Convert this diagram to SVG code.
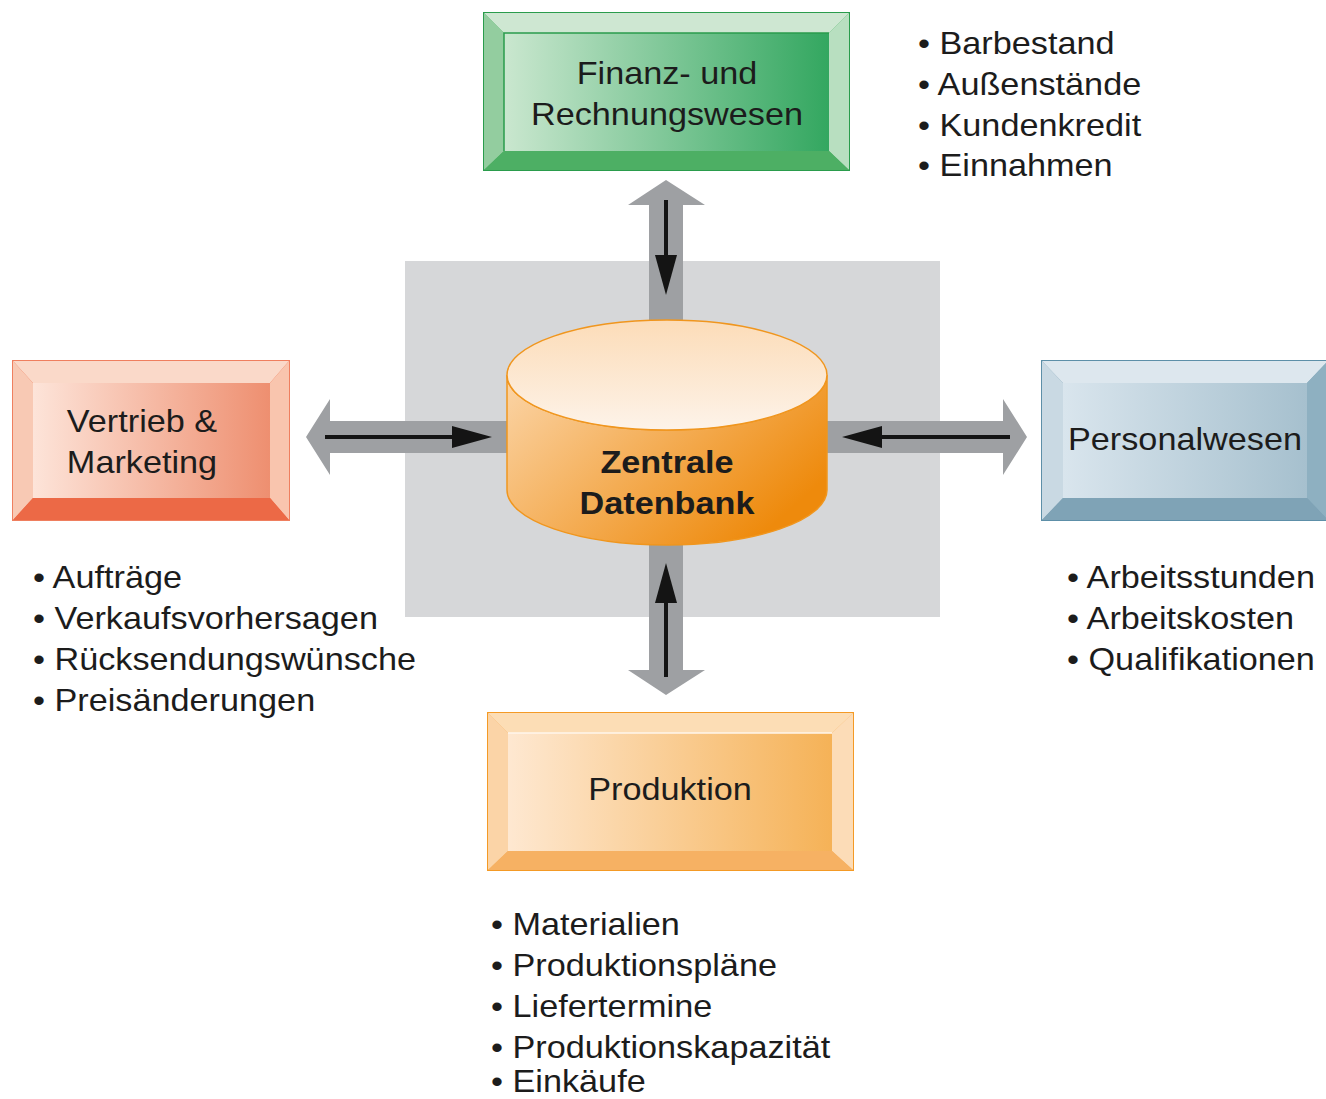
<svg xmlns="http://www.w3.org/2000/svg" width="1326" height="1099" viewBox="0 0 1326 1099">
  <style>
    .t { font-family: "Liberation Sans", Arial, Helvetica, sans-serif; font-size: 32px; fill: #1c1c1c; }
    .b { font-weight: bold; }
    .mid { text-anchor: middle; }
    .bar { fill: #9ea0a3; }
    .ptr { stroke: #141414; stroke-width: 4; fill: none; }
  </style>
  <defs>
    <marker id="head" markerUnits="userSpaceOnUse" markerWidth="40" markerHeight="22" refX="18" refY="11" orient="auto">
      <path d="M0,0 L40,11 L0,22 Z" fill="#141414"/>
    </marker>
    <linearGradient id="gGreen" x1="0" y1="0" x2="1" y2="0">
      <stop offset="0" stop-color="#cae7cf"/>
      <stop offset="1" stop-color="#33a760"/>
    </linearGradient>
    <linearGradient id="gRed" x1="0" y1="0" x2="1" y2="0">
      <stop offset="0" stop-color="#fde4d9"/>
      <stop offset="1" stop-color="#ee8f70"/>
    </linearGradient>
    <linearGradient id="gBlue" x1="0" y1="0" x2="1" y2="0">
      <stop offset="0" stop-color="#d9e5ed"/>
      <stop offset="1" stop-color="#a6c0ce"/>
    </linearGradient>
    <linearGradient id="gOrange" x1="0" y1="0" x2="1" y2="0">
      <stop offset="0" stop-color="#fee8d1"/>
      <stop offset="1" stop-color="#f5b257"/>
    </linearGradient>
    <linearGradient id="gCylSide" x1="0" y1="0" x2="1" y2="0.6">
      <stop offset="0" stop-color="#fbd5a8"/>
      <stop offset="1" stop-color="#ee8a0c"/>
    </linearGradient>
    <linearGradient id="gCylTop" x1="0" y1="0" x2="0" y2="1">
      <stop offset="0" stop-color="#fcdcb8"/>
      <stop offset="1" stop-color="#fdf3e9"/>
    </linearGradient>
  </defs>

  <!-- grey backdrop behind the database -->
  <rect x="405" y="261" width="535" height="356" fill="#d6d7d9"/>

  <!-- connectors: grey double arrows with black data-flow pointers -->
  <g id="connectors">
    <path class="bar" d="M306,437 L330,399 L330,421 L510,421 L510,453 L330,453 L330,475 Z"/>
    <line class="ptr" x1="325" y1="437" x2="470" y2="437" marker-end="url(#head)"/>

    <path class="bar" d="M1027,437 L1003,399 L1003,421 L825,421 L825,453 L1003,453 L1003,475 Z"/>
    <line class="ptr" x1="1010" y1="437" x2="864" y2="437" marker-end="url(#head)"/>

    <path class="bar" d="M666,180 L705,205 L683,205 L683,380 L649,380 L649,205 L628,205 Z"/>
    <line class="ptr" x1="666" y1="200" x2="666" y2="273" marker-end="url(#head)"/>

    <path class="bar" d="M666,695 L705,670 L683,670 L683,480 L649,480 L649,670 L628,670 Z"/>
    <line class="ptr" x1="666" y1="677" x2="666" y2="585" marker-end="url(#head)"/>
  </g>

  <!-- central database -->
  <g id="datenbank">
    <path d="M507,375 L507,490 A160,55 0 0 0 827,490 L827,375 A160,55 0 0 1 507,375 Z" fill="url(#gCylSide)" stroke="#f0961e" stroke-width="1.5"/>
    <ellipse cx="667" cy="375" rx="160" ry="55" fill="url(#gCylTop)" stroke="#f0961e" stroke-width="1.5"/>
    <text class="t b mid" transform="translate(667,473) scale(1.07,1)">Zentrale</text>
    <text class="t b mid" transform="translate(667,514) scale(1.07,1)">Datenbank</text>
  </g>

  <!-- Finanz- und Rechnungswesen -->
  <g id="finanz">
    <rect x="484" y="13" width="365" height="157" fill="#4caf63" stroke="#2a9c4c" stroke-width="2"/>
    <polygon points="484,13 849,13 829,33 504,33" fill="#cee7d2"/>
    <polygon points="484,13 504,33 504,151 484,170" fill="#93cd9f"/>
    <polygon points="849,13 829,33 829,151 849,170" fill="#b8dfc0"/>
    <polygon points="484,170 849,170 829,151 504,151" fill="#4daf64"/>
    <rect x="504" y="33" width="325" height="118" fill="url(#gGreen)"/>
    <path d="M504,151 L504,33 L829,33" fill="none" stroke="#2a9c4c" stroke-width="1.5"/>
    <text class="t mid" transform="translate(667,84) scale(1.07,1)">Finanz- und</text>
    <text class="t mid" transform="translate(667,125) scale(1.07,1)">Rechnungswesen</text>
  </g>

  <!-- Vertrieb & Marketing -->
  <g id="vertrieb">
    <rect x="13" y="361" width="276" height="159" fill="#ed6b48" stroke="#ef7f5f" stroke-width="2"/>
    <polygon points="13,361 289,361 270,383 33,383" fill="#fad9c9"/>
    <polygon points="13,361 33,383 33,498 13,520" fill="#f8c9b4"/>
    <polygon points="289,361 270,383 270,498 289,520" fill="#f9c5ae"/>
    <polygon points="13,520 289,520 270,498 33,498" fill="#ec6946"/>
    <rect x="33" y="383" width="237" height="115" fill="url(#gRed)"/>
    <text class="t mid" transform="translate(142,432) scale(1.07,1)">Vertrieb &amp;</text>
    <text class="t mid" transform="translate(142,473) scale(1.07,1)">Marketing</text>
  </g>

  <!-- Personalwesen -->
  <g id="personal">
    <rect x="1042" y="361" width="286" height="159" fill="#7fa3b6" stroke="#5d8fa8" stroke-width="2"/>
    <polygon points="1042,361 1328,361 1307,383 1063,383" fill="#dde7ee"/>
    <polygon points="1042,361 1063,383 1063,498 1042,520" fill="#c9d9e3"/>
    <polygon points="1328,361 1307,383 1307,498 1328,520" fill="#8eb0c1"/>
    <polygon points="1042,520 1328,520 1307,498 1063,498" fill="#7fa3b6"/>
    <rect x="1063" y="383" width="244" height="115" fill="url(#gBlue)"/>
    <text class="t mid" transform="translate(1185,450) scale(1.07,1)">Personalwesen</text>
  </g>

  <!-- Produktion -->
  <g id="produktion">
    <rect x="488" y="713" width="365" height="157" fill="#f6b060" stroke="#f49a25" stroke-width="2"/>
    <polygon points="488,713 853,713 832,733 508,733" fill="#fcddb5"/>
    <polygon points="488,713 508,733 508,851 488,870" fill="#fbd4a7"/>
    <polygon points="853,713 832,733 832,851 853,870" fill="#fcdcb7"/>
    <polygon points="488,870 853,870 832,851 508,851" fill="#f6b163"/>
    <rect x="508" y="733" width="324" height="118" fill="url(#gOrange)"/>
    <path d="M508,733 L832,733" stroke="#fff6ec" stroke-width="1.5"/>
    <text class="t mid" transform="translate(670,800) scale(1.07,1)">Produktion</text>
  </g>

  <!-- data items per department -->
  <g id="liste-finanz">
    <text class="t" transform="translate(918,54) scale(1.07,1)">• Barbestand</text>
    <text class="t" transform="translate(918,95) scale(1.07,1)">• Außenstände</text>
    <text class="t" transform="translate(918,136) scale(1.07,1)">• Kundenkredit</text>
    <text class="t" transform="translate(918,176) scale(1.07,1)">• Einnahmen</text>
  </g>
  <g id="liste-vertrieb">
    <text class="t" transform="translate(33,588) scale(1.07,1)">• Aufträge</text>
    <text class="t" transform="translate(33,629) scale(1.07,1)">• Verkaufsvorhersagen</text>
    <text class="t" transform="translate(33,670) scale(1.07,1)">• Rücksendungswünsche</text>
    <text class="t" transform="translate(33,711) scale(1.07,1)">• Preisänderungen</text>
  </g>
  <g id="liste-personal">
    <text class="t" transform="translate(1067,588) scale(1.07,1)">• Arbeitsstunden</text>
    <text class="t" transform="translate(1067,629) scale(1.07,1)">• Arbeitskosten</text>
    <text class="t" transform="translate(1067,670) scale(1.07,1)">• Qualifikationen</text>
  </g>
  <g id="liste-produktion">
    <text class="t" transform="translate(491,935) scale(1.07,1)">• Materialien</text>
    <text class="t" transform="translate(491,976) scale(1.07,1)">• Produktionspläne</text>
    <text class="t" transform="translate(491,1017) scale(1.07,1)">• Liefertermine</text>
    <text class="t" transform="translate(491,1058) scale(1.07,1)">• Produktionskapazität</text>
    <text class="t" transform="translate(491,1092) scale(1.07,1)">• Einkäufe</text>
  </g>
</svg>
